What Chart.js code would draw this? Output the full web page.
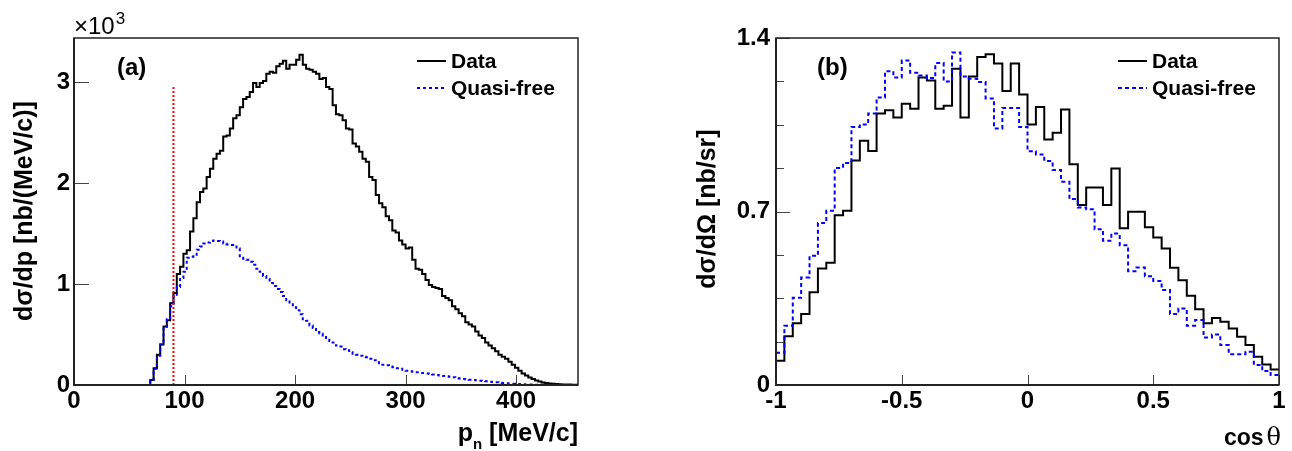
<!DOCTYPE html>
<html>
<head>
<meta charset="utf-8">
<script src="https://cdn.jsdelivr.net/npm/chart.js@4.4.1/dist/chart.umd.min.js"></script>
<style>
body { margin: 0; background: #fff; }
#wrap { position: relative; width: 1292px; height: 451px; }
.pane { position: absolute; top: 0; width: 646px; height: 451px; }
</style>
</head>
<body>
<div id="wrap">
  <div class="pane" style="left:0"><canvas id="chartA" width="646" height="451"></canvas></div>
  <div class="pane" style="left:646px"><canvas id="chartB" width="646" height="451"></canvas></div>
</div>
<script>
// ---- panel (a): neutron momentum, 3 MeV/c bins from 0 to 456, values in 10^3 nb/(MeV/c)
const pnLow = 0;
const pnBinWidth = 3;
const pnData = [
  0,0,0,0,0,0,0,0,0,0, 0,0,0,0,0,0,0,0,0,0, 0,0,0,
  0.05,0.165,0.30,0.40,0.58,0.64,0.81,0.91,1.10,1.17,
  1.30,1.335,1.52,1.65,1.81,1.91,1.945,2.06,2.14,2.24,
  2.29,2.32,2.46,2.47,2.54,2.64,2.67,2.75,2.83,2.85,
  2.90,2.99,2.95,2.99,3.01,3.08,3.10,3.09,3.155,3.18,
  3.21,3.13,3.17,3.17,3.22,3.27,3.17,3.13,3.12,3.10,
  3.08,3.03,3.04,2.95,2.93,2.77,2.68,2.67,2.62,2.54,
  2.53,2.39,2.36,2.31,2.24,2.21,2.06,2.03,1.88,1.80,
  1.76,1.67,1.63,1.53,1.51,1.43,1.39,1.35,1.36,1.24,
  1.15,1.14,1.10,1.04,0.99,0.97,0.96,0.95,0.88,0.86,
  0.84,0.78,0.75,0.71,0.68,0.62,0.60,0.58,0.53,0.49,
  0.465,0.42,0.39,0.365,0.335,0.30,0.28,0.26,0.23,0.20,
  0.17,0.14,0.115,0.095,0.075,0.06,0.045,0.035,0.025,0.02,
  0.016,0.012,0.01,0.008,0.006,0.005,0.004,0.003,0.002
];
const pnQuasiFree = [
  0,0,0,0,0,0,0,0,0,0, 0,0,0,0,0,0,0,0,0,0, 0,0,0,
  0.05,0.16,0.29,0.40,0.56,0.65,0.78,0.88,0.97,1.06,
  1.12,1.26,1.27,1.29,1.34,1.37,1.40,1.41,1.425,1.43,
  1.425,1.42,1.40,1.39,1.385,1.37,1.35,1.26,1.25,1.24,
  1.22,1.19,1.15,1.12,1.08,1.05,1.01,0.98,0.95,0.92,
  0.88,0.84,0.80,0.77,0.74,0.70,0.65,0.635,0.59,0.565,
  0.525,0.51,0.475,0.465,0.435,0.42,0.39,0.38,0.355,0.345,
  0.325,0.31,0.30,0.29,0.28,0.275,0.26,0.245,0.225,0.215,
  0.20,0.195,0.182,0.176,0.166,0.16,0.15,0.14,0.135,0.13,
  0.125,0.12,0.118,0.115,0.11,0.105,0.10,0.095,0.09,0.086,
  0.082,0.077,0.07,0.065,0.06,0.057,0.053,0.05,0.046,0.043,
  0.04,0.036,0.032,0.029,0.026,0.023,0.02,0.018,0.015,0.013,
  0.011,0.009,0.007,0.005,0.004,0.003,0.002,0.002,0.002,0.002,
  0.001,0.001,0.001,0.001,0.001,0.001,0.001,0.001,0.001
];
const pnCut = 90;        // MeV/c, red dotted line
const pnCutTop = 2.95;
const pnXTicks = [0, 100, 200, 300, 400];
const pnYTicks = [0, 1, 2, 3];

// ---- panel (b): cos theta, 60 bins from -1 to 1, values in nb/sr
const cosLow = -1;
const cosBinWidth = 2 / 60;
const cosData = [
  0.098,0.197,0.249,0.286,0.374,0.47,0.493,0.685,0.703,0.906,
  0.985,0.944,1.095,1.108,1.079,1.135,1.115,1.241,1.229,1.115,
  1.127,1.276,1.079,1.245,1.323,1.334,1.297,1.186,1.297,1.172,
  1.051,1.122,0.99,1.018,1.112,0.891,0.726,0.797,0.797,0.726,
  0.873,0.632,0.699,0.699,0.636,0.595,0.551,0.473,0.423,0.36,
  0.306,0.249,0.27,0.255,0.228,0.195,0.161,0.114,0.083,0.063
];
const cosQuasiFree = [
  0.13,0.239,0.352,0.434,0.521,0.654,0.703,0.876,0.896,1.041,
  1.051,1.095,1.16,1.266,1.241,1.309,1.26,1.249,1.239,1.299,
  1.225,1.342,1.245,1.236,1.222,1.156,1.035,1.118,1.118,1.041,
  0.943,0.93,0.904,0.867,0.82,0.75,0.716,0.709,0.628,0.582,
  0.611,0.564,0.459,0.474,0.439,0.42,0.383,0.286,0.309,0.239,
  0.262,0.192,0.204,0.161,0.124,0.124,0.134,0.081,0.056,0.04
];
const cosXTicks = [-1, -0.5, 0, 0.5, 1];
const cosYTicks = [0, 0.7, 1.4];
const cosYMinor = [0.175, 0.35, 0.525, 0.875, 1.05, 1.225];

const FONT = '"Liberation Sans", Arial, Helvetica, sans-serif';

// bin contents -> step points at the left edges, plus the closing right edge
function histPoints(lo, w, vals) {
  const pts = vals.map((v, i) => ({ x: lo + i * w, y: v }));
  pts.push({ x: lo + vals.length * w, y: vals[vals.length - 1] });
  return pts;
}

function axis(min, max, ticks, pad, fit) {
  return {
    type: 'linear', min: min, max: max,
    grid: { display: false, drawTicks: false },
    border: { display: false },
    afterBuildTicks: s => { s.ticks = ticks.map(v => ({ value: v })); },
    afterFit: fit,
    ticks: {
      padding: pad, color: '#000', maxRotation: 0, autoSkip: false,
      font: { family: FONT, size: 24, weight: 'bold' },
      callback: v => String(v)
    }
  };
}

// frame, inside ticks, titles, legend, labels (ROOT look)
function decor(cfg) {
  return {
    id: 'decor',
    afterDraw(chart) {
      const ctx = chart.ctx, a = chart.chartArea;
      const xs = chart.scales.x, ys = chart.scales.y;
      ctx.save();
      // ticks
      ctx.strokeStyle = '#444';
      ctx.lineWidth = 1;
      ctx.beginPath();
      cfg.xTicks.forEach(v => {
        const px = Math.round(xs.getPixelForValue(v)) + 0.5;
        ctx.moveTo(px, a.bottom); ctx.lineTo(px, a.bottom - cfg.xTickLen);
      });
      cfg.yTicks.forEach(v => {
        const py = Math.round(ys.getPixelForValue(v)) + 0.5;
        ctx.moveTo(a.left, py); ctx.lineTo(a.left + cfg.yTickLen, py);
      });
      (cfg.yMinor || []).forEach(v => {
        const py = Math.round(ys.getPixelForValue(v)) + 0.5;
        ctx.moveTo(a.left, py); ctx.lineTo(a.left + cfg.yMinorLen, py);
      });
      ctx.stroke();
      // frame
      ctx.strokeStyle = '#222';
      ctx.lineWidth = 1.5;
      ctx.strokeRect(a.left, a.top, a.right - a.left, a.bottom - a.top);
      ctx.lineWidth = 2;
      ctx.beginPath();
      ctx.moveTo(a.left, a.top); ctx.lineTo(a.left, a.bottom); ctx.lineTo(a.right, a.bottom);
      ctx.stroke();

      ctx.fillStyle = '#000';
      // panel label
      ctx.font = 'bold 24px ' + FONT;
      ctx.textAlign = 'left';
      ctx.textBaseline = 'middle';
      ctx.fillText(cfg.tag, cfg.tagX, 68);

      // legend
      ctx.font = 'bold 21px ' + FONT;
      chart.data.datasets.forEach((ds, i) => {
        if (!ds.label) return;
        const ly = 61 + i * 27;
        ctx.save();
        ctx.strokeStyle = ds.borderColor;
        ctx.lineWidth = ds.borderWidth;
        ctx.setLineDash(ds.borderDash || []);
        ctx.beginPath();
        ctx.moveTo(cfg.legX, ly); ctx.lineTo(cfg.legX + 29, ly);
        ctx.stroke();
        ctx.restore();
        ctx.fillText(ds.label, cfg.legX + 34, ly + 1);
      });

      // y title
      ctx.save();
      ctx.translate(cfg.yTitleX, cfg.yTitleY);
      ctx.rotate(-Math.PI / 2);
      ctx.font = 'bold 25px ' + FONT;
      ctx.textAlign = 'center';
      ctx.textBaseline = 'middle';
      ctx.fillText(cfg.yTitle, 0, 0);
      ctx.restore();

      // x title (right aligned at the axis end)
      cfg.xTitle(ctx, a);
      if (cfg.extra) cfg.extra(ctx, a);
      ctx.restore();
    }
  };
}

const chartA = new Chart(document.getElementById('chartA'), {
  type: 'line',
  data: {
    datasets: [
      { label: 'Data', data: histPoints(pnLow, pnBinWidth, pnData), stepped: 'before',
        borderColor: '#000', borderWidth: 2, pointRadius: 0, order: 2 },
      { label: 'Quasi-free', data: histPoints(pnLow, pnBinWidth, pnQuasiFree), stepped: 'before',
        borderColor: '#0000ff', borderWidth: 2, borderDash: [3, 3], pointRadius: 0, order: 1 },
      { label: '', data: [{ x: pnCut, y: 0 }, { x: pnCut, y: pnCutTop }],
        borderColor: '#ff0000', borderWidth: 2, borderDash: [2, 2], pointRadius: 0, order: 0 }
    ]
  },
  options: {
    responsive: false, animation: false,
    layout: { padding: { left: 0, right: 68, top: 38, bottom: 0 } },
    plugins: { legend: { display: false }, tooltip: { enabled: false } },
    scales: {
      x: axis(0, 456, pnXTicks, 2, s => { s.height = 66; }),
      y: axis(0, 3.435, pnYTicks, 4, s => { s.width = 74; })
    }
  },
  plugins: [decor({
    xTicks: pnXTicks, yTicks: pnYTicks, xTickLen: 10, yTickLen: 15,
    tag: '(a)', tagX: 117, legX: 417,
    yTitle: 'd\u03c3/dp [nb/(MeV/c)]', yTitleX: 25, yTitleY: 211,
    xTitle: (ctx, a) => {
      ctx.textBaseline = 'alphabetic';
      ctx.textAlign = 'right';
      ctx.font = 'bold 25px ' + FONT;
      const rest = ' [MeV/c]';
      ctx.fillText(rest, a.right, 441);
      const wr = ctx.measureText(rest).width;
      ctx.font = 'bold 15px ' + FONT;
      ctx.fillText('n', a.right - wr, 449);
      const wn = ctx.measureText('n').width;
      ctx.font = 'bold 25px ' + FONT;
      ctx.fillText('p', a.right - wr - wn, 441);
    },
    extra: (ctx, a) => {
      ctx.textAlign = 'left';
      ctx.textBaseline = 'alphabetic';
      ctx.font = '24px ' + FONT;
      ctx.fillText('\u00d710', a.left, 34);
      const w = ctx.measureText('\u00d710').width;
      ctx.font = '17px ' + FONT;
      ctx.fillText('3', a.left + w + 1, 24);
    }
  })]
});

const chartB = new Chart(document.getElementById('chartB'), {
  type: 'line',
  data: {
    datasets: [
      { label: 'Data', data: histPoints(cosLow, cosBinWidth, cosData), stepped: 'before',
        borderColor: '#000', borderWidth: 2, pointRadius: 0, order: 2 },
      { label: 'Quasi-free', data: histPoints(cosLow, cosBinWidth, cosQuasiFree), stepped: 'before',
        borderColor: '#0000ff', borderWidth: 2, borderDash: [4, 3], pointRadius: 0, order: 1 }
    ]
  },
  options: {
    responsive: false, animation: false,
    layout: { padding: { left: 0, right: 13, top: 38, bottom: 0 } },
    plugins: { legend: { display: false }, tooltip: { enabled: false } },
    scales: {
      x: axis(-1, 1, cosXTicks, 2, s => { s.height = 66; }),
      y: axis(0, 1.4, cosYTicks, 6, s => { s.width = 130; })
    }
  },
  plugins: [decor({
    xTicks: cosXTicks, yTicks: cosYTicks, yMinor: cosYMinor, xTickLen: 10, yTickLen: 14, yMinorLen: 8,
    tag: '(b)', tagX: 817 - 646, legX: 1118 - 646,
    yTitle: 'd\u03c3/d\u03a9 [nb/sr]', yTitleX: 708 - 646, yTitleY: 209,
    xTitle: (ctx, a) => {
      ctx.textBaseline = 'alphabetic';
      ctx.textAlign = 'right';
      ctx.font = '24px "DejaVu Serif", serif';
      ctx.fillText('\u03b8', a.right + 2, 445);
      const wt = ctx.measureText('\u03b8').width;
      ctx.font = 'bold 23px ' + FONT;
      ctx.fillText('cos', a.right + 2 - wt - 3, 445);
    }
  })]
});
</script>
</body>
</html>
